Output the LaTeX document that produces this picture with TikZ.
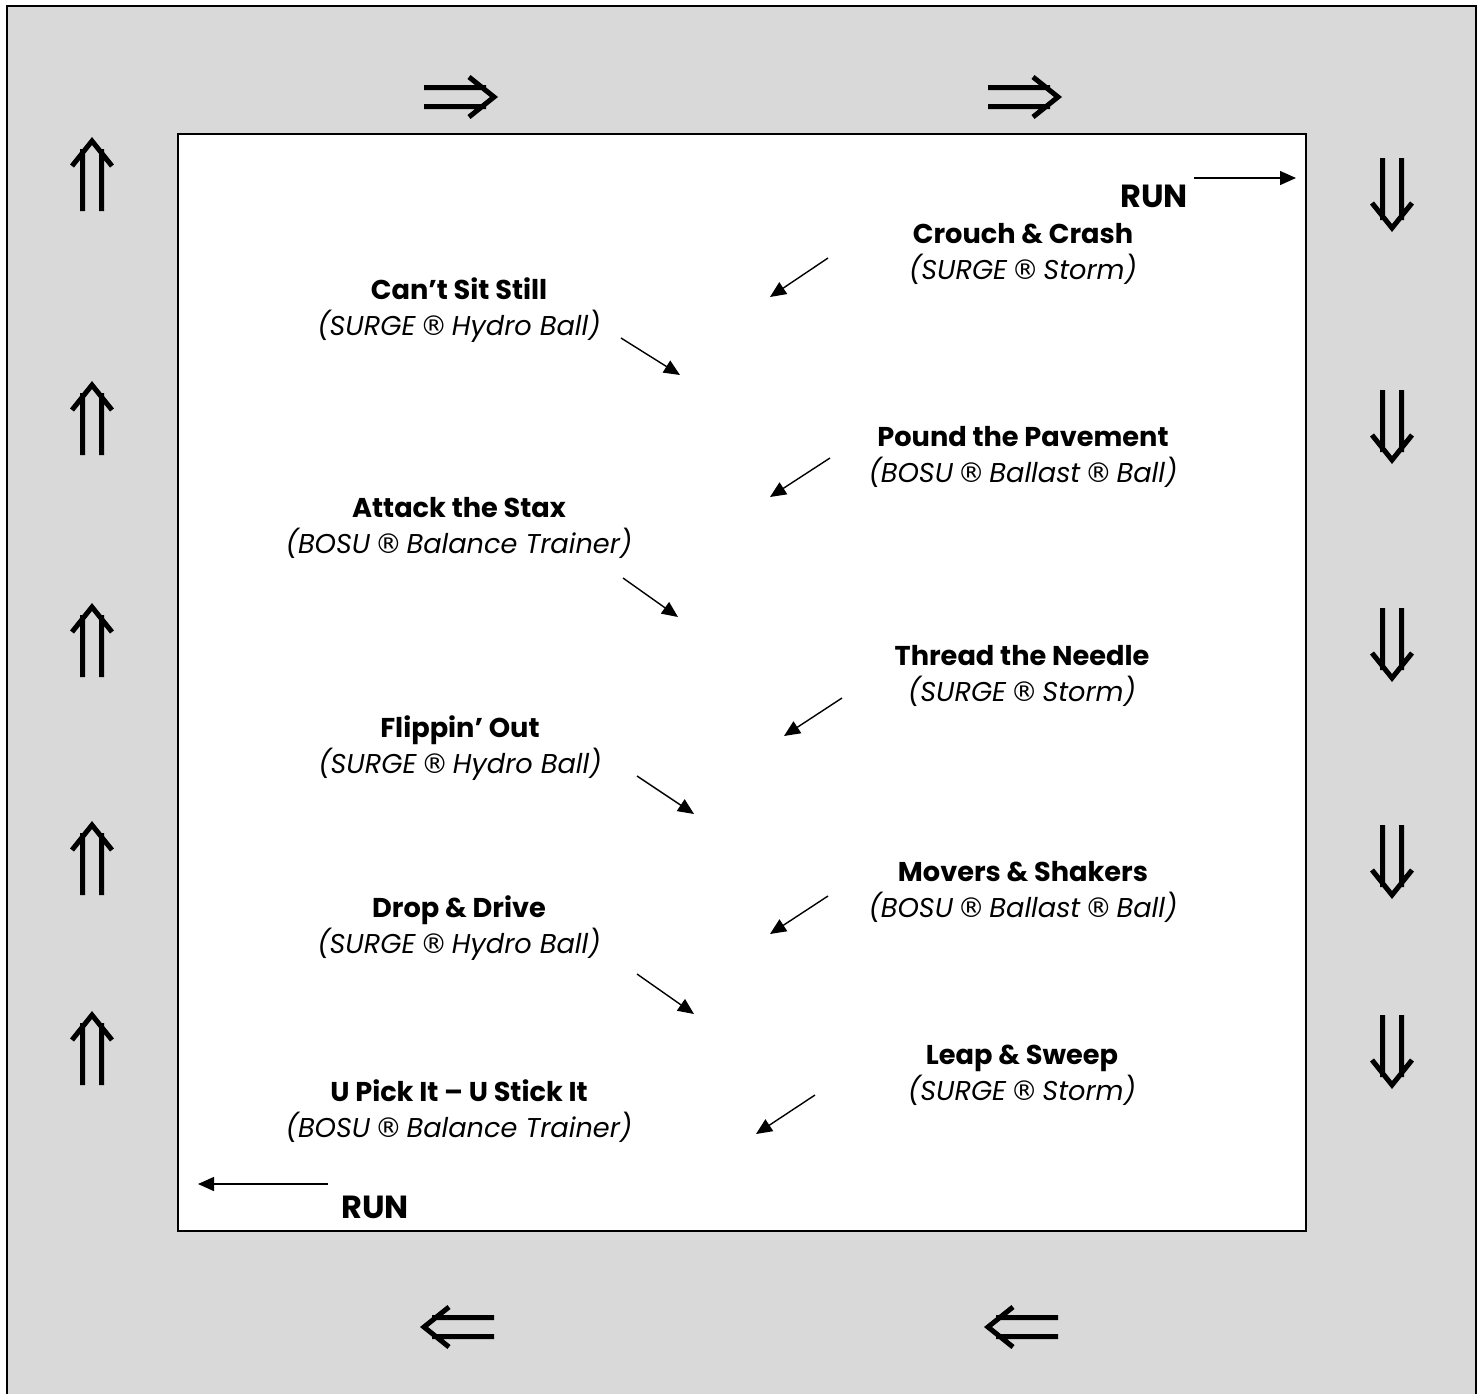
\documentclass[tikz,border=0pt]{standalone}
\usepackage{fontspec}
\setmainfont{Poppins}
\newfontfamily\regfont{DejaVu Sans}
\usetikzlibrary{arrows.meta}

\newcommand{\regmark}{\,{\regfont\itshape ®}\,}

\begin{document}
\begin{tikzpicture}[x=0.5pt,y=-0.5pt,
    station/.style={align=center, inner sep=0pt, font=\fontsize{13.6}{18}\selectfont},
    run/.style={inner sep=0pt, font=\fontsize{16}{18}\selectfont\bfseries},
    flow/.style={-{Triangle[length=8pt,width=7pt]}, line width=0.7pt},
    lap/.pic={\draw[line width=2.5pt, line join=miter]
        (-35,-9.5) -- (27,-9.5) (-35,9.5) -- (27,9.5)
        (10,-20) -- (35,0) -- (10,20);}]
    \useasboundingbox (0,0) rectangle (1484,1393);

    % track and floor
    \draw[line width=0.9pt, fill=black!15] (7,6) rectangle (1476,1400);
    \draw[line width=1pt, fill=white] (178,134) rectangle (1306,1231);

    % lap direction
    \pic at (459,97) {lap};
    \pic at (1023,97) {lap};
    \pic[rotate=180] at (459,1327) {lap};
    \pic[rotate=180] at (1023,1327) {lap};
    \pic[rotate=90] at (92,176) {lap};
    \pic[rotate=90] at (92,420) {lap};
    \pic[rotate=90] at (92,642) {lap};
    \pic[rotate=90] at (92,860) {lap};
    \pic[rotate=90] at (92,1050) {lap};
    \pic[rotate=-90] at (1392,193) {lap};
    \pic[rotate=-90] at (1392,425) {lap};
    \pic[rotate=-90] at (1392,643) {lap};
    \pic[rotate=-90] at (1392,860) {lap};
    \pic[rotate=-90] at (1392,1050) {lap};

    % stations
    \node[station] (crouch) at (1023,254) {\textbf{Crouch \& Crash}\\\textit{(SURGE\regmark Storm)}};
    \node[station] (cant) at (459,310) {\textbf{Can’t Sit Still}\\\textit{(SURGE\regmark Hydro Ball)}};
    \node[station] (pound) at (1023,457) {\textbf{Pound the Pavement}\\\textit{(BOSU\regmark Ballast\regmark Ball)}};
    \node[station] (attack) at (459,528) {\textbf{Attack the Stax}\\\textit{(BOSU\regmark Balance Trainer)}};
    \node[station] (thread) at (1022,676) {\textbf{Thread the Needle}\\\textit{(SURGE\regmark Storm)}};
    \node[station] (flippin) at (460,748) {\textbf{Flippin’ Out}\\\textit{(SURGE\regmark Hydro Ball)}};
    \node[station] (movers) at (1023,892) {\textbf{Movers \& Shakers}\\\textit{(BOSU\regmark Ballast\regmark Ball)}};
    \node[station] (drop) at (459,928) {\textbf{Drop \& Drive}\\\textit{(SURGE\regmark Hydro Ball)}};
    \node[station] (leap) at (1022,1075) {\textbf{Leap \& Sweep}\\\textit{(SURGE\regmark Storm)}};
    \node[station] (upick) at (459,1111) {\textbf{U Pick It – U Stick It}\\\textit{(BOSU\regmark Balance Trainer)}};

    % run legs
    \node[run] (runin) at (1154,196) {RUN};
    \node[run] (runout) at (375,1207) {RUN};
    \coordinate (runinstart) at (1194,178);
    \coordinate (runinend) at (1296,178);
    \coordinate (runoutstart) at (328,1184);
    \coordinate (runoutend) at (198,1184);
    \draw[flow] (runinstart) -- (runinend);
    \draw[flow] (runoutstart) -- (runoutend);

    % moves between stations
    \coordinate (m1a) at (828,258);  \coordinate (m1b) at (770,297);
    \coordinate (m2a) at (621,338);  \coordinate (m2b) at (680,375);
    \coordinate (m3a) at (830,458);  \coordinate (m3b) at (770,497);
    \coordinate (m4a) at (623,578);  \coordinate (m4b) at (678,617);
    \coordinate (m5a) at (842,698);  \coordinate (m5b) at (784,736);
    \coordinate (m6a) at (637,776);  \coordinate (m6b) at (694,814);
    \coordinate (m7a) at (828,896);  \coordinate (m7b) at (770,934);
    \coordinate (m8a) at (637,974);  \coordinate (m8b) at (694,1014);
    \coordinate (m9a) at (815,1095); \coordinate (m9b) at (756,1134);
    \draw[flow] (m1a) -- (m1b);
    \draw[flow] (m2a) -- (m2b);
    \draw[flow] (m3a) -- (m3b);
    \draw[flow] (m4a) -- (m4b);
    \draw[flow] (m5a) -- (m5b);
    \draw[flow] (m6a) -- (m6b);
    \draw[flow] (m7a) -- (m7b);
    \draw[flow] (m8a) -- (m8b);
    \draw[flow] (m9a) -- (m9b);
\end{tikzpicture}
\end{document}
